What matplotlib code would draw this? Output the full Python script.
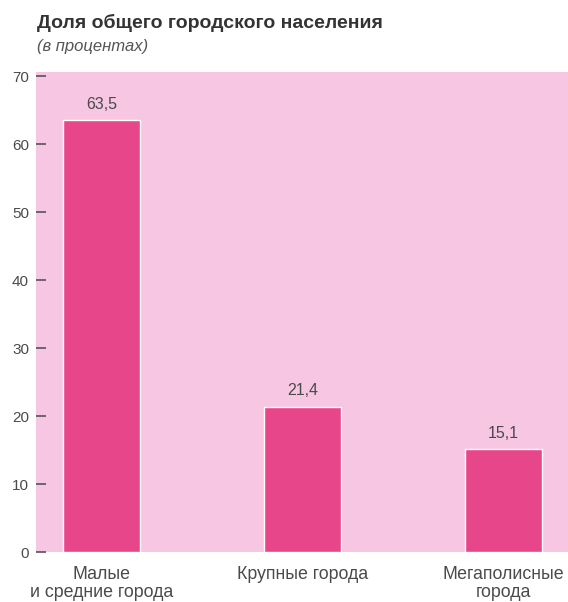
import matplotlib
matplotlib.use("Agg")
import matplotlib.pyplot as plt

plt.rcParams['font.family'] = ['Liberation Sans', 'DejaVu Sans']

categories = ["Малые\nи средние города", "Крупные города", "Мегаполисные\nгорода"]
values = [63.5, 21.4, 15.1]
value_labels = ["63,5", "21,4", "15,1"]
yticks = [0, 10, 20, 30, 40, 50, 60, 70]

bg_color = "#f6c6e3"
bar_color = "#e8468a"
text_color = "#4a4a4a"

fig = plt.figure(figsize=(5.68, 6.02), dpi=100)
ax = fig.add_axes([0.0634, 0.083, 0.9366, 0.797])
ax.set_facecolor(bg_color)

x = list(range(len(categories)))
bars = ax.bar(x, values, width=0.383, color=bar_color, edgecolor="white", linewidth=1.0, zorder=2)

for xi, v, lab in zip(x, values, value_labels):
    ax.annotate(lab, (xi, v), xytext=(0, 6), textcoords="offset points",
                ha="center", va="bottom", fontsize=11.5, color=text_color)

ax.set_xlim(-0.326, 2.321)
ax.set_ylim(0, 70.6)
ax.set_yticks(yticks)
ax.set_yticklabels([str(t) for t in yticks])
ax.set_xticks(x)
ax.set_xticklabels(categories, fontsize=12.8, color=text_color, linespacing=1.05)

ax.tick_params(axis="y", direction="in", length=7.5, width=1.2, color="#555555",
               labelsize=11, labelcolor=text_color, pad=5)
ax.tick_params(axis="x", length=0, pad=10)

for s in ax.spines.values():
    s.set_visible(False)

fig.text(0.065, 0.954, "Доля общего городского населения", fontsize=14, fontweight="bold",
         color="#333333", ha="left", va="baseline")
fig.text(0.065, 0.915, "(в процентах)", fontsize=12, style="italic",
         color="#555555", ha="left", va="baseline")

fig.savefig("out.png", dpi=100)
